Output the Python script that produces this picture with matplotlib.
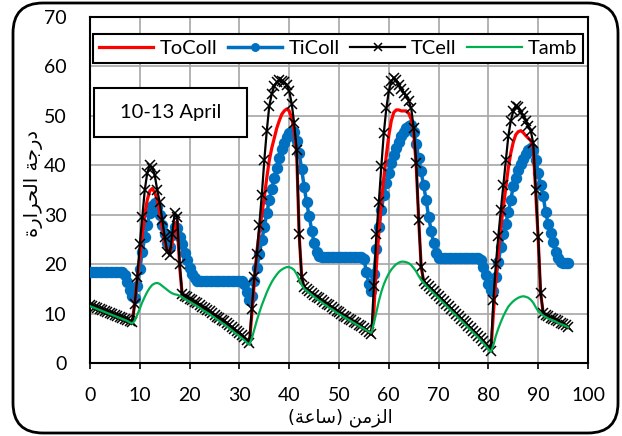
import numpy as np
import matplotlib
matplotlib.use("Agg")
from matplotlib import pyplot as plt
from matplotlib.patches import FancyBboxPatch, Rectangle

# readings every half hour, 0 .. 96 h
hours = np.arange(0, 96.5, 0.5)

to_coll = [
    11.7, 11.5, 11.3, 11.1, 10.9, 10.7, 10.5, 10.3, 10.1, 9.9, 9.7, 9.5, 9.3, 9.1, 8.9, 8.7, 8.4, 8.2,
    12.5, 17.0, 21.5, 26.0, 30.0, 33.0, 34.8, 35.3, 34.5, 33.0, 30.5, 27.6, 24.5, 22.8, 22.0, 24.5, 27.0, 28.7, 19.5,
    13.9, 13.5, 13.2, 12.9, 12.6, 12.3, 12.0, 11.7, 11.3, 11.0, 10.7, 10.4, 10.0, 9.7, 9.3, 9.0, 8.6, 8.3, 7.9, 7.5,
    7.1, 6.7, 6.3, 5.9, 5.5, 5.1, 4.6, 3.9,
    10.0, 16.5, 22.5, 26.5, 30.0, 33.5, 37.5, 41.0, 43.5, 45.5, 47.5, 49.0, 50.3, 51.0, 51.4, 51.0, 49.5, 47.0, 42.5,
    26.0, 17.5, 15.2,
    14.9, 14.5, 14.1, 13.7, 13.3, 13.0, 12.6, 12.3, 11.9, 11.6, 11.2, 10.9, 10.5, 10.2, 9.9, 9.5, 9.2, 8.9, 8.6, 8.2,
    7.9, 7.6, 7.3, 6.9, 6.6, 6.2, 5.8,
    10.5, 19.6, 26.5, 32.5, 37.5, 42.0, 46.0, 49.0, 50.7, 51.2, 51.2, 51.0, 51.0, 51.0, 50.5, 49.3, 46.5, 40.0, 29.0,
    19.5, 16.5,
    15.9, 15.4, 14.9, 14.4, 13.9, 13.4, 12.9, 12.4, 11.9, 11.4, 10.9, 10.4, 9.9, 9.4, 8.9, 8.4, 7.9, 7.4, 6.9, 6.4,
    5.9, 5.4, 4.9, 4.3, 3.7, 3.1, 2.4,
    10.0, 17.0, 22.5, 27.5, 31.5, 35.5, 39.5, 42.5, 44.7, 46.2, 46.8, 47.0, 46.6, 46.0, 45.5, 45.0, 43.5, 34.5, 25.0,
    14.0,
    10.1, 9.7, 9.4, 9.1, 8.8, 8.6, 8.3, 8.0, 7.8, 7.5, 7.2,
]

ti_coll = [
    18.5, 18.5, 18.5, 18.5, 18.5, 18.5, 18.5, 18.5, 18.5, 18.5, 18.5, 18.5, 18.5, 18.5, 17.8, 16.3, 14.8, 13.5,
    13.2, 15.5, 19.0, 22.5, 25.5, 28.0, 30.3, 31.8, 32.3, 31.5, 30.0, 28.0, 26.0, 24.3, 23.5, 25.8, 27.5, 27.3, 25.5,
    24.0, 22.2, 20.8, 19.3, 18.1, 17.1, 16.5, 16.5, 16.5, 16.5, 16.5, 16.5, 16.5, 16.5, 16.5, 16.5, 16.5, 16.5, 16.5,
    16.5, 16.5, 16.5, 16.5, 16.5, 16.5, 16.0, 14.3, 12.8,
    13.5, 16.5, 19.3, 22.0, 24.8, 27.5, 30.3, 33.0, 35.3, 37.5, 39.5, 41.5, 43.2, 44.5, 45.7, 46.6, 47.0, 46.7, 45.0,
    42.5, 39.2, 35.7,
    32.5, 29.7, 26.8, 24.2, 22.5, 21.6, 21.5, 21.5, 21.5, 21.5, 21.5, 21.5, 21.5, 21.5, 21.5, 21.5, 21.5, 21.5, 21.5,
    21.5, 21.5, 21.5, 21.5, 21.0, 18.5, 16.0, 14.5,
    18.0, 23.0, 27.5, 31.0, 34.0, 36.4, 38.5, 40.5, 42.0, 43.5, 44.8, 45.9, 46.8, 47.5, 48.0, 48.2, 46.8, 44.3, 41.5,
    38.8, 36.0,
    33.0, 29.5, 26.8, 24.2, 22.2, 21.3, 21.2, 21.2, 21.2, 21.2, 21.2, 21.2, 21.2, 21.2, 21.2, 21.2, 21.2, 21.2, 21.2,
    21.2, 21.2, 21.2, 20.8, 19.5, 17.8, 16.0, 14.8,
    14.5, 17.5, 20.5, 23.5, 26.0, 28.2, 30.5, 33.0, 35.8, 37.5, 39.0, 40.2, 41.3, 42.3, 43.0, 43.5, 43.0, 41.0, 38.5,
    36.0,
    33.8, 30.5, 28.2, 26.2, 24.5, 22.5, 21.2, 20.5, 20.2, 20.2, 20.2,
]

t_cell = [
    11.8, 11.6, 11.4, 11.2, 11.0, 10.8, 10.6, 10.4, 10.2, 10.0, 9.8, 9.6, 9.4, 9.2, 9.0, 8.8, 8.5, 8.3,
    12.0, 17.5, 24.0, 29.5, 35.0, 38.5, 40.0, 39.5, 38.0, 35.0, 32.5, 29.0, 25.5, 22.5, 21.8, 26.0, 30.3, 29.5, 20.0,
    14.0, 13.6, 13.3, 13.0, 12.7, 12.4, 12.1, 11.8, 11.4, 11.1, 10.8, 10.5, 10.1, 9.8, 9.4, 9.1, 8.7, 8.4, 8.0, 7.6,
    7.2, 6.8, 6.4, 6.0, 5.6, 5.2, 4.7, 4.0,
    11.0, 17.5, 22.0, 28.0, 34.0, 41.0, 47.0, 52.0, 54.5, 56.0, 56.8, 57.2, 57.0, 56.8, 56.3, 55.0, 52.5, 48.5, 43.0,
    26.0, 17.5, 15.3,
    15.0, 14.6, 14.2, 13.8, 13.4, 13.1, 12.7, 12.4, 12.0, 11.7, 11.3, 11.0, 10.6, 10.3, 10.0, 9.6, 9.3, 9.0, 8.7, 8.3,
    8.0, 7.7, 7.4, 7.0, 6.7, 6.3, 5.9,
    15.5, 26.0, 32.5, 39.8, 46.5, 51.5, 55.0, 57.0, 57.6, 57.2, 56.3, 55.5, 54.7, 54.0, 53.0, 51.5, 47.5, 40.5, 29.0,
    19.5, 16.6,
    16.0, 15.5, 15.0, 14.5, 14.0, 13.5, 13.0, 12.5, 12.0, 11.5, 11.0, 10.5, 10.0, 9.5, 9.0, 8.5, 8.0, 7.5, 7.0, 6.5,
    6.0, 5.5, 5.0, 4.4, 3.8, 3.2, 2.5,
    12.8, 20.0, 25.7, 31.0, 36.0, 41.0, 45.9, 49.0, 51.0, 52.0, 51.8, 50.8, 50.0, 49.0, 48.0, 47.0, 44.5, 35.0, 25.5,
    14.2,
    10.2, 9.8, 9.5, 9.2, 8.9, 8.7, 8.4, 8.1, 7.9, 7.6, 7.3,
]

t_amb = [
    11.5, 11.3, 11.1, 10.9, 10.7, 10.5, 10.3, 10.1, 9.9, 9.7, 9.5, 9.3, 9.1, 8.9, 8.7, 8.5, 8.2, 8.0,
    8.6, 9.8, 11.0, 12.3, 13.4, 14.4, 15.2, 15.8, 16.1, 16.2, 16.0, 15.6, 15.2, 14.8, 14.4, 14.1, 13.9, 13.8, 13.6,
    13.3, 13.0, 12.7, 12.4, 12.1, 11.8, 11.5, 11.2, 10.8, 10.5, 10.2, 9.9, 9.5, 9.2, 8.8, 8.5, 8.1, 7.8, 7.4, 7.0,
    6.6, 6.2, 5.8, 5.4, 5.0, 4.6, 4.1, 3.7,
    5.0, 6.8, 8.6, 10.2, 11.7, 13.0, 14.3, 15.4, 16.4, 17.2, 17.9, 18.5, 18.9, 19.2, 19.4, 19.4, 19.2, 18.8, 18.0,
    16.9, 15.8, 15.0,
    14.6, 14.2, 13.8, 13.4, 13.0, 12.6, 12.3, 11.9, 11.6, 11.2, 10.9, 10.6, 10.2, 9.9, 9.6, 9.3, 9.0, 8.7, 8.4, 8.1,
    7.8, 7.5, 7.2, 6.9, 6.6, 6.3, 6.1,
    8.0, 10.3, 12.5, 14.4, 15.9, 17.1, 18.1, 18.9, 19.5, 20.0, 20.3, 20.5, 20.5, 20.4, 20.2, 19.8, 19.2, 18.5, 17.6,
    16.8, 16.2,
    15.6, 15.1, 14.6, 14.1, 13.6, 13.1, 12.6, 12.1, 11.6, 11.1, 10.6, 10.1, 9.6, 9.1, 8.6, 8.1, 7.6, 7.1, 6.6, 6.1,
    5.6, 5.1, 4.5, 4.0, 3.4, 2.8, 2.2,
    3.6, 5.5, 7.0, 8.3, 9.5, 10.5, 11.4, 12.0, 12.5, 12.9, 13.2, 13.4, 13.5, 13.4, 13.2, 12.8, 12.2, 11.3, 10.5,
    10.0,
    9.6, 9.3, 9.0, 8.8, 8.6, 8.4, 8.1, 7.9, 7.7, 7.5, 7.2,
]

x_label = "الزمن (ساعة)"
y_label = "درجة الحرارة"
period_note = "10-13 April"

# isolated, final, initial, medial
FORMS = {
    "ا": ("\uFE8D", "\uFE8E", None, None),
    "د": ("\uFEA9", "\uFEAA", None, None),
    "ر": ("\uFEAD", "\uFEAE", None, None),
    "ز": ("\uFEAF", "\uFEB0", None, None),
    "ة": ("\uFE93", "\uFE94", None, None),
    "ج": ("\uFE9D", "\uFE9E", "\uFE9F", "\uFEA0"),
    "ح": ("\uFEA1", "\uFEA2", "\uFEA3", "\uFEA4"),
    "س": ("\uFEB1", "\uFEB2", "\uFEB3", "\uFEB4"),
    "ع": ("\uFEC9", "\uFECA", "\uFECB", "\uFECC"),
    "ل": ("\uFEDD", "\uFEDE", "\uFEDF", "\uFEE0"),
    "م": ("\uFEE1", "\uFEE2", "\uFEE3", "\uFEE4"),
    "ن": ("\uFEE5", "\uFEE6", "\uFEE7", "\uFEE8"),
}


def shape_arabic(text):
    # matplotlib does no shaping or bidi, so do it by hand
    out = []
    for i, ch in enumerate(text):
        if ch not in FORMS:
            out.append(ch)
            continue
        prev = text[i - 1] if i > 0 else ""
        nxt = text[i + 1] if i + 1 < len(text) else ""
        joins_prev = prev in FORMS and FORMS[prev][2] is not None
        joins_next = FORMS[ch][2] is not None and nxt in FORMS
        iso, fin, ini, med = FORMS[ch]
        if joins_prev and joins_next:
            out.append(med)
        elif joins_prev:
            out.append(fin)
        elif joins_next:
            out.append(ini)
        else:
            out.append(iso)
    mirror = {"(": ")", ")": "("}
    return "".join(mirror.get(c, c) for c in reversed(out))


plt.rcParams["font.family"] = ["Lato", "DejaVu Sans"]

fig = plt.figure(figsize=(6.22, 4.36), dpi=100)
ax = fig.add_axes([90 / 622, 1 - 363 / 436, 498 / 622, 346 / 436])

frame = FancyBboxPatch((0.13, 0.03), 6.05, 4.30, boxstyle="round,pad=0,rounding_size=0.3",
                       transform=fig.dpi_scale_trans, facecolor="none", edgecolor="black",
                       linewidth=2.0, zorder=0)
fig.patches.append(frame)

ax.plot(hours, ti_coll, color="#0070C0", lw=2.5, marker="o", ms=7.2, mec="#0070C0", label="TiColl", zorder=3)
ax.plot(hours, to_coll, color="#FF0000", lw=2.3, label="ToColl", zorder=4)
ax.plot(hours, t_cell, color="black", lw=1.6, marker="x", ms=7.5, mew=1.1, label="TCell", zorder=5)
ax.plot(hours, t_amb, color="#00B050", lw=1.6, label="Tamb", zorder=6)

ax.set_xlim(0, 100)
ax.set_ylim(0, 70)
ax.set_xticks(np.arange(0, 101, 10))
ax.set_yticks(np.arange(0, 71, 10))
ax.grid(True, color="#A6A6A6", lw=1.2)
ax.set_axisbelow(True)
for s in ax.spines.values():
    s.set_linewidth(1.5)
    s.set_color("black")
ax.tick_params(axis="x", length=4.5, width=1.2, labelsize=14, pad=13)
ax.tick_params(axis="y", length=0, labelsize=14, pad=17)

ax.set_xlabel(shape_arabic(x_label), family="DejaVu Sans", fontsize=13)
ax.xaxis.set_label_coords(0.502, -0.157)
ax.xaxis.label.set_va("center")
ax.set_ylabel(shape_arabic(y_label), family="DejaVu Sans", fontsize=14)
ax.yaxis.set_label_coords(-0.114, 0.52)
ax.yaxis.label.set_va("center")

handles, labels = ax.get_legend_handles_labels()
order = [1, 0, 2, 3]
leg = ax.legend([handles[i] for i in order], [labels[i] for i in order], ncol=4,
                loc="lower left", bbox_to_anchor=(0.006, 0.867, 0.984, 0.101), mode="expand",
                fontsize=14.5, handlelength=2.7, handletextpad=0.3, columnspacing=0.6,
                borderaxespad=0, fancybox=False, framealpha=1, edgecolor="black",
                borderpad=0.3, markerscale=0.75)
leg.get_frame().set_linewidth(1.5)
leg.set_zorder(10)

note_box = Rectangle((0.008, 0.653), 0.307, 0.142, transform=ax.transAxes, facecolor="white",
                     edgecolor="black", lw=1.5, zorder=11)
ax.add_patch(note_box)
ax.text(0.162, 0.724, period_note, transform=ax.transAxes, ha="center", va="center",
        fontsize=14.5, zorder=12)

fig.savefig("out.png", dpi=100)
